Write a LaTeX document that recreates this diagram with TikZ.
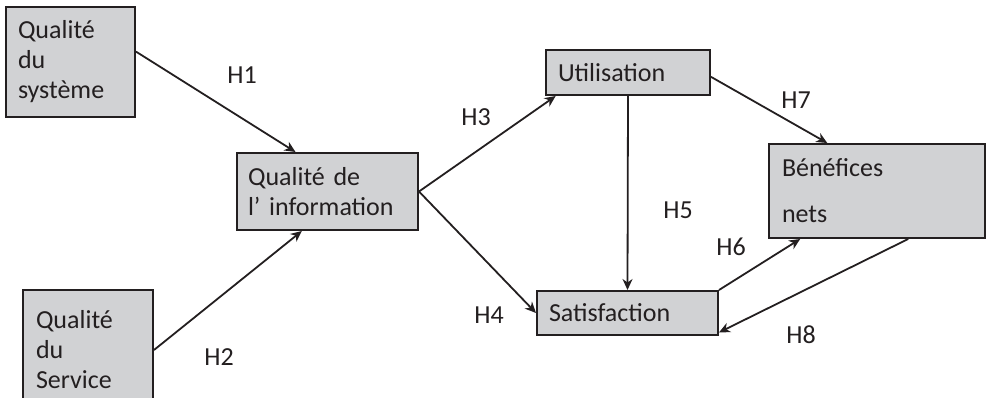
\documentclass[tikz,border=0pt]{standalone}
\usepackage{fontspec}
\setmainfont{Carlito}
\usetikzlibrary{arrows.meta}
\definecolor{boxgrey}{HTML}{D1D2D4}
\definecolor{ink}{HTML}{231F20}
\tikzset{>={Stealth[length=11pt,width=10pt,inset=3.5pt]}}
\tikzset{
  varbox/.style={draw=ink,fill=boxgrey,line width=2pt,inner xsep=12pt,inner ysep=0pt,align=left,text=ink},
  hyp/.style={text=ink,inner sep=0pt},
  link/.style={->,draw=ink,line width=1.8pt}
}

\begin{document}
\begin{tikzpicture}[x=1pt,y=-1pt,font=\fontsize{26}{30}\selectfont]
    \useasboundingbox (0,0) rectangle (986,397);
    % the six variables
    \node[varbox,minimum width=129pt,minimum height=110pt,text width=105pt] (sys) at (70.5,62) {Qualité\\du\\système};
    \node[varbox,minimum width=130pt,minimum height=120pt,text width=104pt,inner xsep=13pt] (serv) at (88,350) {Qualité\\du\\Service};
    \node[varbox,minimum width=181pt,minimum height=77pt,text width=159pt,inner xsep=11pt] (info) at (327.5,191.5) {Qualité de\\l’ information};
    \node[varbox,minimum width=164pt,minimum height=45pt,text width=140pt] (util) at (628,72.5) {Utilisation};
    \node[varbox,minimum width=181pt,minimum height=44pt,text width=157pt] (satis) at (627.5,313) {Satisfaction};
    \node[varbox,minimum width=216pt,minimum height=94pt,text width=190pt,inner xsep=13pt] (benef) at (877,191) {Bénéfices\\[16pt]nets};
    % hypotheses
    \draw[link] (sys.9) -- (info.129);
    \draw[link] (serv.east) -- (info.237);
    \draw[link] (info.east) -- (util.198);
    \draw[link] (info.east) -- (satis.west);
    \draw[link] (util.south) -- (satis.north);
    \draw[link] (satis.north east) -- (benef.212);
    \draw[link] (util.-3) -- (benef.136);
    \draw[link] (benef.303) -- (satis.348);
    \node[hyp] (h1) at (242,75.5) {H1};
    \node[hyp] (h2) at (219,357) {H2};
    \node[hyp] (h3) at (476,117) {H3};
    \node[hyp] (h4) at (489,315.5) {H4};
    \node[hyp] (h5) at (678,210.5) {H5};
    \node[hyp] (h6) at (731,246.5) {H6};
    \node[hyp] (h7) at (796,100.5) {H7};
    \node[hyp] (h8) at (801,335) {H8};
\end{tikzpicture}
\end{document}
